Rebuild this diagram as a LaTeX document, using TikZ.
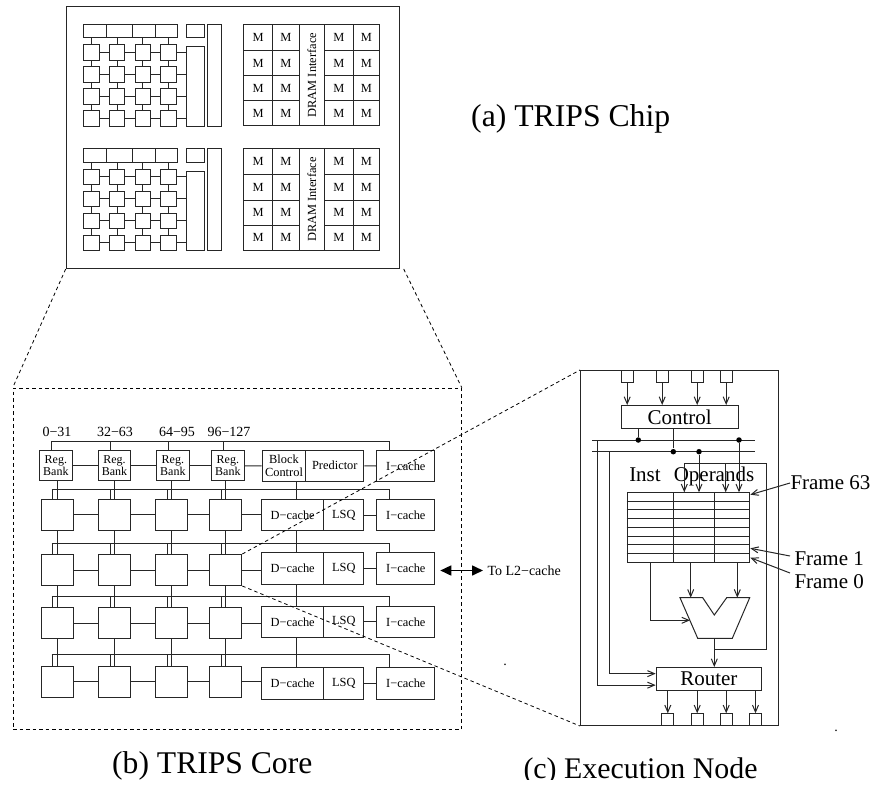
\documentclass[tikz,border=0pt]{standalone}
\usepackage{fontspec}
\setmainfont{Liberation Serif}
\usetikzlibrary{arrows.meta, positioning, calc}
\definecolor{cline}{HTML}{262626}
\tikzset{
  every picture/.style={line width=1pt},
  cell/.style={draw=cline, inner sep=0pt, anchor=north west, align=center},
  dim/.style 2 args={minimum width=#1pt, minimum height=#2pt},
  wire/.style={draw=cline},
  flow/.style={draw=cline, -{Straight Barb[length=7pt,width=6pt]}},
  link/.style={draw=black, line width=0.8pt, dash pattern=on 3.5pt off 3pt},
  lab/.style={font=\fontsize{12.4}{12.6}\selectfont},
  bank/.style={font=\fontsize{12}{12.6}\selectfont},
  mid/.style={font=\fontsize{14}{16}\selectfont},
  big/.style={font=\fontsize{21}{24}\selectfont},
  title/.style={inner sep=0pt, anchor=base west},
  dot/.style={circle, fill=black, inner sep=0pt, minimum size=5.5pt},
}
\begin{document}
\begin{tikzpicture}[x=1pt, y=-1pt]
  \useasboundingbox (0,0) rectangle (871,785);
  \node[cell, dim={333}{262}] (chip) at (65.7,6) {};
  \foreach \g/\oy in {a/0, b/124.3} {
    \foreach \c/\cx/\w in {1/83.3/22.4, 2/105.7/26.6, 3/132.3/22.4, 4/154.7/22} 
      \node[cell, dim={\w}{13.3}] (\g t\c) at (\cx,24+\oy) {};
    \node[cell, dim={18}{13.3}] (\g u) at (185.7,24+\oy) {};
    \node[cell, dim={14}{102}] (\g v) at (207.3,24+\oy) {};
    \node[cell, dim={18}{79.7}] (\g w) at (185.7,46.3+\oy) {};
    \foreach \r/\ry in {1/44.3, 2/66.3, 3/88.3, 4/110.3}
      \foreach \c/\cx in {1/83.3, 2/109, 3/134.7, 4/160.3}
        \node[cell, dim={15.3}{15.3}] (\g s\r\c) at (\cx,\ry+\oy) {};
    \foreach \c in {1,...,4} {
      \draw[wire] (\g s1\c.north) -- (\g s1\c.north |- \g t1.south);
      \foreach \r [remember=\r as \p (initially 1)] in {2,3,4}
        \draw[wire] (\g s\p\c.south) -- (\g s\r\c.north);
    }
    \foreach \r in {1,...,4} {
      \foreach \c [remember=\c as \p (initially 1)] in {2,3,4}
        \draw[wire] (\g s\r\p.east) -- (\g s\r\c.west);
      \draw[wire] (\g s\r4.east) -- (\g s\r4.east -| \g w.west);
    }
    \foreach \r/\ry/\h in {1/24/26, 2/50/25.3, 3/75.3/25, 4/100.3/25}
      \foreach \c/\cx/\w in {1/243/29.3, 2/272.3/26.4, 3/324/28.7, 4/352.7/26.6}
        \node[cell, dim={\w}{\h}, lab] (\g m\r\c) at (\cx,\ry+\oy) {M};
    \node[cell, dim={25.3}{101.3}, lab] (\g dram) at (298.7,24+\oy) {};
    \node[lab, rotate=90, inner sep=0pt] (\g dramtext) at (\g dram.center) {DRAM Interface};
  }
  \node[title, font=\fontsize{31.7}{36}\selectfont] (capa) at (470.7,126.7) {(a) TRIPS Chip};

  \node[cell, dim={448.3}{341.3}, link] (core) at (12.7,387.7) {};
  \draw[link] (chip.south west) -- (core.north west);
  \draw[link] ([xshift=4pt]chip.south east) -- (core.north east);
  \foreach \t/\x in {0−31/57, 32−63/115, 64−95/177, 96−127/229}
    \node[mid, anchor=base] (\x) at (\x,436.5) {\t};
  \foreach \c/\cx in {1/39, 2/97.7, 3/156, 4/211}
    \node[cell, dim={32.7}{30}, bank] (b\c) at (\cx,450.3) {Reg.\\Bank};
  \node[cell, dim={43.6}{30.5}, lab] (ctl) at (261.7,450) {Block\\Control};
  \node[cell, dim={58}{30.5}, lab] (pred) at (305.3,450) {Predictor};
  \node[cell, dim={58}{31}, lab] (i0) at (376.3,450) {I−cache};
  \coordinate (bus0) at (51.7,441.3);
  \coordinate (busend0) at (389.7,441.3);
  \coordinate (spine) at (296.3,480);
  \foreach \r/\ry/\dy/\by in {1/498.5/499/489.7, 2/554/552.3/543, 3/607.3/605.7/596, 4/665.7/667.3/654.3} {
    \foreach \c/\cx in {1/40.7, 2/98, 3/155.4, 4/209.3}
      \node[cell, dim={32}{31}] (s\r\c) at (\cx,\ry) {};
    \node[cell, dim={62.3}{31.3}, lab] (d\r) at (261,\dy) {D−cache};
    \node[cell, dim={40}{31.3}, lab] (q\r) at (323.3,\dy) {LSQ};
    \node[cell, dim={58}{31.3}, lab] (i\r) at (376.3,\dy) {I−cache};
    \coordinate (bus\r) at (51.7,\by);
    \coordinate (busend\r) at (389.7,\by);
    \draw[wire] (bus\r) -- (busend\r) -- (i\r.north -| busend\r);
    \foreach \c [remember=\c as \p (initially 1)] in {2,3,4}
      \draw[wire] (s\r\p.east) -- (s\r\c.west);
    \draw[wire] (s\r4.east) -- (s\r4.east -| d\r.west);
    \draw[wire] (q\r.east) -- (i\r.west);
    \foreach \c in {1,...,4}
      \draw[wire] ([xshift=-4.5pt]s\r\c.north) -- ([xshift=-4.5pt]s\r\c.north |- bus\r);
  }
  \draw[wire] (bus0) -- (busend0) -- (i0.north -| busend0);
  \foreach \c [remember=\c as \p (initially 1)] in {1,...,4} {
    \draw[wire] ([xshift=-4.5pt]b\c.north) -- ([xshift=-4.5pt]b\c.north |- bus0);
    \draw[wire] (s1\c.north) -- (s1\c.north |- b\c.south);
    \draw[wire] (s1\c.south) -- (s2\c.north);
    \draw[wire] (s2\c.south) -- (s3\c.north);
    \draw[wire] (s3\c.south) -- (s4\c.north);
  }
  \draw[wire] (b1.east) -- (b2.west);
  \draw[wire] (b2.east) -- (b3.west);
  \draw[wire] (b3.east) -- (b4.west);
  \draw[wire] (b4.east) -- (ctl.west);
  \draw[wire] (pred.east) -- (i0.west);
  \draw[wire] (spine |- ctl.south) -- (spine |- d1.north);
  \draw[wire] (spine |- d1.south) -- (spine |- d2.north);
  \draw[wire] (spine |- d2.south) -- (spine |- d3.north);
  \draw[wire] (spine |- d3.south) -- (spine |- d4.north);
  \node[mid, inner sep=0pt, anchor=west] (l2) at (487,570.5) {To L2−cache};
  \draw[{Triangle[length=11pt,width=10pt]}-{Triangle[length=11pt,width=10pt]}, line width=1.6pt] ([xshift=5pt]i2.east |- l2.west) -- ([xshift=-4pt]l2.west);
  \node[title, font=\fontsize{31.6}{36}\selectfont] (capb) at (111.7,773.3) {(b) TRIPS Core};
  \node[anchor=base, mid] (speck1) at (505,665) {.};

  \node[cell, dim={198.3}{355}] (enode) at (580,370) {};
  \draw[link] (s24.north east) -- (enode.north west);
  \draw[link] (s24.south east) -- (enode.south west);
  \node[cell, dim={117}{23.3}, big] (control) at (620.7,405) {Control};
  \node[cell, dim={105.3}{23.3}, big] (router) at (655.7,667) {Router};
  \foreach \i/\cx in {1/620.7, 2/655.7, 3/690.7, 4/719.7} {
    \node[cell, dim={12}{12}] (in\i) at (\cx,370) {};
    \draw[flow] (in\i.south) -- (in\i.south |- control.north);
  }
  \foreach \i/\cx in {1/661.3, 2/690.7, 3/719.7, 4/749} {
    \node[cell, dim={12}{11.7}] (out\i) at (\cx,713.3) {};
    \draw[flow] (out\i.north |- router.south) -- (out\i.north);
  }
  \coordinate (busa) at (592,440);
  \coordinate (busaend) at (755,440);
  \coordinate (busb) at (592,451.7);
  \coordinate (busbend) at (755,451.7);
  \draw[wire] (busa) -- (busaend);
  \draw[wire] (busb) -- (busbend);
  \node[dot] (dot1) at (638.3,440) {};
  \node[dot] (dot2) at (673.3,451.7) {};
  \node[dot] (dot3) at (699,451.7) {};
  \node[dot] (dot4) at (739,440) {};
  \draw[wire] (dot1 |- control.south) -- (dot1);
  \draw[wire] (dot2 |- control.south) -- (dot2);
  \coordinate (taila) at (597.3,440);
  \coordinate (tailb) at (609.3,451.7);
  \draw[flow] (taila) |- ([yshift=-6pt]router.west);
  \draw[flow] (tailb) |- ([yshift=5.5pt]router.west);
  \node[cell, dim={122.6}{70}] (frames) at (626.7,492.3) {};
  \foreach \i in {1,...,7}
    \draw[wire] ([yshift=-\i*8.75pt]frames.north west) -- ([yshift=-\i*8.75pt]frames.north east);
  \foreach \d in {46.6,87.6}
    \draw[wire] ([xshift=\d pt]frames.north west) -- ([xshift=\d pt]frames.south west);
  \node[big, anchor=base] (inst) at (645,481) {Inst};
  \node[big, anchor=base] (operands) at (714,481) {Operands};
  \draw[flow] (dot3) -- (dot3 |- frames.north);
  \draw[flow] (dot4) -- (dot4 |- frames.north);
  \coordinate (fb) at (714.3,649.3);
  \coordinate (fbr) at (766.7,463.3);
  \coordinate (fbl) at (684.3,463.3);
  \coordinate (fbm) at (725.7,463.3);
  \draw[flow] (fb) -| (fbr) -- (fbl) -- (fbl |- frames.north);
  \draw[flow] (fbm) -- (fbm |- frames.north);
  \coordinate (alua) at (690.7,597.7);
  \coordinate (alub) at (737.3,597.7);
  \coordinate (aluc) at (690,620.3);
  \coordinate (aluout) at (714.3,638.3);
  \coordinate (tapc) at (650,562.3);
  \draw[wire] (680,597.7) -- (702.7,597.7) -- (714.3,615) -- (726.7,597.7) -- (749.7,597.7) -- (732.3,638.3) -- (697.7,638.3) -- cycle;
  \draw[flow] (alua |- frames.south) -- (alua);
  \draw[flow] (alub |- frames.south) -- (alub);
  \draw[flow] (tapc) |- (aluc);
  \draw[flow] (aluout) -- (aluout |- router.north);
  \node[big, inner sep=0pt, anchor=west] (f63) at (790,483) {Frame 63};
  \node[big, inner sep=0pt, anchor=west] (f1) at (794,559) {Frame 1};
  \node[big, inner sep=0pt, anchor=west] (f0) at (794,581.7) {Frame 0};
  \draw[flow] (f63.west) -- ([yshift=-2.4pt]frames.north east);
  \draw[flow] ([xshift=-4pt,yshift=3pt]f1.west) -- ([yshift=15pt]frames.south east);
  \draw[flow] ([xshift=-4pt,yshift=8.7pt]f0.west) -- ([yshift=5.6pt]frames.south east);
  \begin{scope}
    \clip (0,0) rectangle (871,779);
    \node[title, font=\fontsize{29.9}{34}\selectfont] (capc) at (523,778.3) {(c) Execution Node};
  \end{scope}
  \node[anchor=base, mid] (speck2) at (836,731) {.};
\end{tikzpicture}
\end{document}
